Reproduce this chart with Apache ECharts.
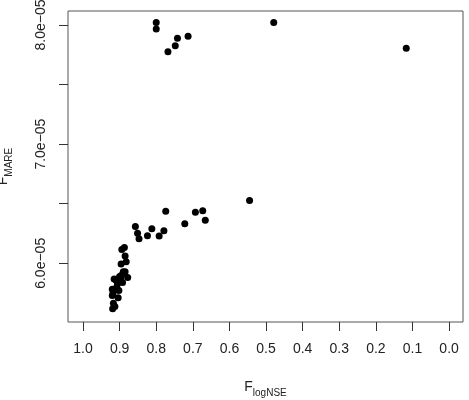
<!DOCTYPE html>
<html>
<head>
<meta charset="utf-8">
<script src="https://cdn.jsdelivr.net/npm/echarts@6/dist/echarts.min.js"></script>
<style>html,body{margin:0;padding:0;background:#fff}#c{width:469px;height:400px}</style>
</head>
<body>
<div id="c"></div>
<script>
// F_logNSE values
const xValues = [
  0.887,0.894,0.885,0.882,0.896,0.890,0.878,0.897,0.915,0.892,0.906,0.920,0.902,0.920,0.904,0.917,0.919,0.913,0.910,0.900,0.918,0.908,0.895,0.885,
  0.857,0.851,0.847,0.824,0.812,0.792,0.779,0.774,0.722,0.693,0.673,0.666,0.545,
  0.800,0.800,0.479,0.742,0.713,0.748,0.768,0.117
];
// F_MARE values
const yValues = [
  6.132e-5,6.115e-5,6.062e-5,6.012e-5,5.995e-5,5.930e-5,5.880e-5,5.872e-5,5.869e-5,5.838e-5,5.827e-5,5.783e-5,5.771e-5,5.729e-5,5.712e-5,5.665e-5,5.618e-5,5.637e-5,5.860e-5,5.890e-5,5.750e-5,5.800e-5,5.900e-5,5.930e-5,
  6.308e-5,6.253e-5,6.205e-5,6.232e-5,6.289e-5,6.230e-5,6.274e-5,6.437e-5,6.331e-5,6.429e-5,6.440e-5,6.362e-5,6.526e-5,
  8.020e-5,7.966e-5,8.020e-5,7.888e-5,7.905e-5,7.826e-5,7.776e-5,7.804e-5
];
const xTicks = [0.0,0.1,0.2,0.3,0.4,0.5,0.6,0.7,0.8,0.9,1.0];
const yTicks = [6.0e-5,6.5e-5,7.0e-5,7.5e-5,8.0e-5];
const yTickLabels = [6.0e-5,7.0e-5,8.0e-5];

const data = xValues.map((x,i)=>[x,yValues[i]]);
const chart = echarts.init(document.getElementById('c'), null, {renderer:'canvas'});
const font = 'Liberation Sans, Arial, Helvetica, sans-serif';
const rich = {
  f:{fontSize:14,fontFamily:font,color:'#222',verticalAlign:'top',lineHeight:18},
  s:{fontSize:10,fontFamily:font,color:'#222',verticalAlign:'bottom',lineHeight:18}
};
chart.setOption({
  animation:false,
  backgroundColor:'#fff',
  grid:{left:68,right:6,top:11,bottom:78,containLabel:false,outerBoundsMode:'none',show:true,borderColor:'#555',borderWidth:1,backgroundColor:'transparent'},
  xAxis:{
    type:'value', inverse:true, min:-0.038, max:1.041, position:'bottom',
    axisLine:{show:false,onZero:false},
    splitLine:{show:false},
    axisTick:{show:true,length:9,inside:false,lineStyle:{color:'#333',width:1},customValues:xTicks},
    axisLabel:{margin:20,fontSize:14,color:'#222',fontFamily:font,customValues:xTicks,formatter:v=>v.toFixed(1)},
    name:'{f|F}{s|logNSE}', nameLocation:'middle', nameGap:58,
    nameTextStyle:{fontFamily:font,color:'#222',rich:rich}
  },
  yAxis:{
    type:'value', min:5.5075e-5, max:8.117e-5, position:'left',
    axisLine:{show:false,onZero:false},
    splitLine:{show:false},
    axisTick:{show:true,length:9,inside:false,lineStyle:{color:'#333',width:1},customValues:yTicks},
    axisLabel:{margin:20,rotate:90,fontSize:14,color:'#222',fontFamily:font,customValues:yTickLabels,formatter:v=>(v*1e5).toFixed(1)+'e\u221205'},
    name:'{f|F}{s|MARE}', nameLocation:'middle', nameGap:54,
    nameTextStyle:{fontFamily:font,color:'#222',rich:rich}
  },
  series:[{type:'scatter',data:data,symbol:'circle',symbolSize:7,itemStyle:{color:'#000',opacity:1},emphasis:{disabled:true}}]
});
</script>
</body>
</html>
